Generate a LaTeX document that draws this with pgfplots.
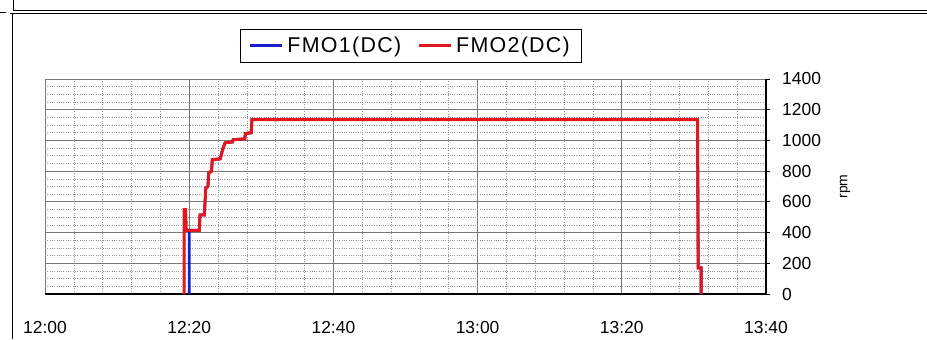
\documentclass[border=0pt]{standalone}
\usepackage{pgfplots}
\pgfplotsset{compat=1.18}
\usepackage{fontspec}
\setmainfont{Liberation Sans}
\newfontfamily\legfont[LetterSpace=6]{Liberation Sans}
\definecolor{fmoblue}{RGB}{30,30,200}
\definecolor{fmored}{RGB}{228,22,30}
\definecolor{majgrid}{RGB}{120,120,120}
\definecolor{mingrid}{RGB}{150,150,150}
\pgfplotstableread{
t rpm
20.0 0
20.0 415
21.4 415
21.5 515
22.1 515
22.2 600
22.3 690
22.6 700
22.7 790
23.1 800
23.2 875
24.3 880
24.6 935
24.9 975
25.0 985
26.0 990
26.1 1005
27.7 1010
27.8 1045
28.6 1050
28.7 1138
90.5 1138
90.6 170
91.0 170
91.0 0
}\fmoone
\pgfplotstableread{
t rpm
19.3 0
19.3 550
19.5 550
19.6 415
21.4 415
21.5 515
22.1 515
22.2 600
22.3 690
22.6 700
22.7 790
23.1 800
23.2 875
24.3 880
24.6 935
24.9 975
25.0 985
26.0 990
26.1 1005
27.7 1010
27.8 1045
28.6 1050
28.7 1135
90.5 1135
90.6 170
91.0 170
91.0 0
}\fmotwo
\begin{document}
\begin{tikzpicture}[x=1bp,y=1bp]
\useasboundingbox (0,0) rectangle (927,339);
\draw[black,line width=0.9bp] (13,339) -- (13,329) -- (927,329);
\draw[black,line width=0.9bp] (10,326) -- (927,326);
\draw[black,line width=0.9bp] (12,326) -- (12,0);
\draw[black,line width=0.6bp] (0,327) -- (6,327);
\begin{axis}[
  at={(45bp,45bp)}, anchor=south west,
  scale only axis, width=721bp, height=215bp,
  xmin=0, xmax=100, ymin=0, ymax=1400,
  axis x line*=bottom, axis y line*=right,
  axis line style={-, black, line width=1.2bp},
  xtick={0,20,40,60,80,100},
  xticklabels={12:00,12:20,12:40,13:00,13:20,13:40},
  minor x tick num=4,
  ytick={0,200,400,600,800,1000,1200,1400},
  yticklabels={0,200,400,600,800,1000,1200,1400},
  minor y tick num=3,
  grid=both,
  major grid style={majgrid, line width=0.9bp},
  minor grid style={mingrid, line width=0.6bp, dash pattern=on 1bp off 1.3bp},
  x tick style={draw=none},
  y tick style={black, line width=0.8bp},
  tick align=outside,
  major tick length=4bp, minor tick length=0bp,
  xticklabel style={font=\fontsize{17.5}{18}\selectfont, anchor=base, yshift=-35bp},
  yticklabel style={font=\fontsize{17.5}{18}\selectfont, anchor=west, inner sep=0pt, xshift=12bp},
  ylabel={rpm},
  every axis y label/.style={at={(axis description cs:1.1096,0.5)}, anchor=center, rotate=90, font=\fontsize{14}{15}\selectfont},
  legend columns=2,
  legend style={at={(axis description cs:0.508,1.156)}, anchor=center, draw=black, line width=0.9bp,
    font=\legfont\fontsize{21.5}{22}\selectfont, inner xsep=8bp, inner ysep=6bp,
    nodes={inner xsep=4bp},
    /tikz/every even column/.append style={column sep=12bp}},
  legend image code/.code={\draw[#1] (0bp,0bp) -- (32bp,0bp);},
]
\addplot[fmoblue, line width=2.8bp] table[x=t,y=rpm] {\fmoone};
\addlegendentry{FMO1(DC)}
\addplot[fmored, line width=3bp] table[x=t,y=rpm] {\fmotwo};
\addlegendentry{FMO2(DC)}
\end{axis}
\end{tikzpicture}
\end{document}
